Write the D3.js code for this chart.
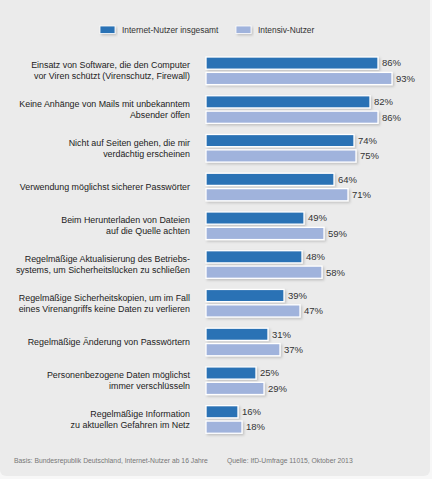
<!DOCTYPE html>
<html>
<head>
<meta charset="utf-8">
<script src="https://cdn.jsdelivr.net/npm/d3@7"></script>
<style>
  html, body { margin: 0; padding: 0; background: #f7f7f7; }
  svg { display: block; font-family: "Liberation Sans", Arial, sans-serif; }
</style>
</head>
<body>
<svg id="chart" width="432" height="479"></svg>
<script>
// ── Data ────────────────────────────────────────────────────────────────
const categories = [
  ['Einsatz von Software, die den Computer', 'vor Viren schützt (Virenschutz, Firewall)'],
  ['Keine Anhänge von Mails mit unbekanntem', 'Absender öffen'],
  ['Nicht auf Seiten gehen, die mir', 'verdächtig erscheinen'],
  ['Verwendung möglichst sicherer Passwörter'],
  ['Beim Herunterladen von Dateien', 'auf die Quelle achten'],
  ['Regelmäßige Aktualisierung des Betriebs-', 'systems, um Sicherheitslücken zu schließen'],
  ['Regelmäßige Sicherheitskopien, um im Fall', 'eines Virenangriffs keine Daten zu verlieren'],
  ['Regelmäßige Änderung von Passwörtern'],
  ['Personenbezogene Daten möglichst', 'immer verschlüsseln'],
  ['Regelmäßige Information', 'zu aktuellen Gefahren im Netz']
];
const allUsers = [86, 82, 74, 64, 49, 48, 39, 31, 25, 16];
const heavyUsers = [93, 86, 75, 71, 59, 58, 47, 37, 29, 18];
const seriesNames = ['Internet-Nutzer insgesamt', 'Intensiv-Nutzer'];
const seriesColors = ['#2b72b5', '#a0b3dc'];
const footLeft = 'Basis: Bundesrepublik Deutschland, Internet-Nutzer ab 16 Jahre';
const footRight = 'Quelle: IfD-Umfrage 11015, Oktober 2013';

// ── Layout ──────────────────────────────────────────────────────────────
const svg = d3.select('#chart');

const defs = svg.append('defs');
const shadow = defs.append('filter').attr('id', 'shadow')
  .attr('x', '-10%').attr('y', '-30%').attr('width', '130%').attr('height', '180%');
shadow.append('feDropShadow')
  .attr('dx', 1.5).attr('dy', 1.5).attr('stdDeviation', 1.2)
  .attr('flood-color', '#000').attr('flood-opacity', 0.18);

// panel
svg.append('rect')
  .attr('x', 0).attr('y', -6).attr('width', 430).attr('height', 482)
  .attr('rx', 6).attr('fill', '#ebebeb');

const x = d3.scaleLinear().domain([0, 100]).range([206, 406]);
const y = d3.scaleBand()
  .domain(d3.range(categories.length))
  .range([52.5, 52.5 + 38.74 * categories.length])
  .paddingInner(0).paddingOuter(0);

const barH = 12.2;
const barGap = 3.2;
const groupOffset = 4.5;

const groups = svg.append('g').selectAll('g.grp')
  .data(categories.map((c, i) => ({ label: c, a: allUsers[i], b: heavyUsers[i], i })))
  .join('g')
  .attr('class', 'grp')
  .attr('transform', d => `translate(0,${y(d.i) + groupOffset})`);

// bars
[['a', 0], ['b', 1]].forEach(([key, s]) => {
  groups.append('rect')
    .attr('x', x(0))
    .attr('y', s * (barH + barGap))
    .attr('width', d => x(d[key]) - x(0))
    .attr('height', barH)
    .attr('fill', seriesColors[s])
    .attr('stroke', '#fff')
    .attr('stroke-width', 1.3)
    .attr('filter', 'url(#shadow)');

  groups.append('text')
    .attr('x', d => x(d[key]) + 4)
    .attr('y', s * (barH + barGap) + barH / 2)
    .attr('dy', '0.35em')
    .attr('font-size', 9.5)
    .attr('fill', '#333')
    .text(d => d[key] + '%');
});

// category labels
const mid = barH + barGap / 2;
groups.append('text')
  .attr('text-anchor', 'end')
  .attr('font-size', 8.9)
  .attr('fill', '#222')
  .each(function (d) {
    const n = d.label.length;
    d3.select(this).selectAll('tspan')
      .data(d.label)
      .join('tspan')
      .attr('x', 190)
      .attr('y', (t, j) => mid + (j - (n - 1) / 2) * 11)
      .attr('dy', '0.35em')
      .text(t => t);
  });

// legend
const legendX = [100, 236];
const legend = svg.append('g').selectAll('g')
  .data(seriesNames)
  .join('g')
  .attr('transform', (d, i) => `translate(${legendX[i]},26)`);
legend.append('rect')
  .attr('width', 15).attr('height', 7.5)
  .attr('fill', (d, i) => seriesColors[i])
  .attr('stroke', '#fff').attr('stroke-width', 0.8)
  .attr('filter', 'url(#shadow)');
legend.append('text')
  .attr('x', 22).attr('y', 3.8).attr('dy', '0.35em')
  .attr('font-size', 8.4).attr('fill', '#333')
  .text(d => d);

// footer
svg.append('text')
  .attr('x', 14).attr('y', 461).attr('dy', '0.35em')
  .attr('font-size', 6.8).attr('fill', '#777')
  .text(footLeft);
svg.append('text')
  .attr('x', 227).attr('y', 461).attr('dy', '0.35em')
  .attr('font-size', 6.8).attr('fill', '#777')
  .text(footRight);
</script>
</body>
</html>
